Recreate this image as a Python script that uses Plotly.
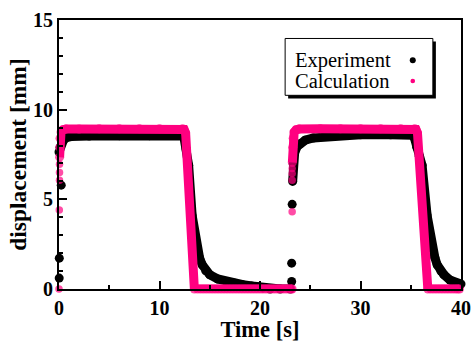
import plotly.graph_objects as go

# ---------------- data ----------------
# Experiment (black) — None separates isolated dots from continuous runs
exp_t = [0.02, None, 0.03, None, 0.22, None,
         0.0, 0.1, 0.25, 0.45, 0.75, 1.2, 3.0, 6.0, 9.0, 12.2, 12.45, 12.65, 12.9,
         13.25, 13.55, 13.75, 14.0, 14.25, 14.6, 15.0, 15.8, 16.7, 17.5, 18.3, 19.2,
         19.8, 20.3, 21.0, 22.0, 23.0, None,
         23.15, None, 23.15, None, 23.2, None,
         23.25, 23.3, 23.45, 23.7, 24.0, 24.5, 25.3, 27.0, 30.0, 33.0, 35.1, 35.35,
         35.6, 35.85, 36.13, 36.63, 36.9, 37.13, 37.4, 37.63, 38.0, 38.3, 38.9, 39.4, 40.0]
exp_y = [0.61, None, 1.72, None, 5.79, None,
         7.64, 7.9, 8.1, 8.3, 8.45, 8.5, 8.53, 8.55, 8.55, 8.55, 8.4, 7.8, 6.9,
         4.1, 2.9, 2.28, 1.7, 1.35, 1.02, 0.8, 0.56, 0.42, 0.32, 0.24, 0.17,
         0.12, 0.06, 0.0, 0.0, 0.0, None,
         0.42, None, 1.44, None, 4.72, None,
         6.0, 7.0, 7.6, 7.95, 8.1, 8.3, 8.42, 8.52, 8.6, 8.6, 8.58, 8.45,
         7.9, 7.4, 6.9, 4.1, 3.0, 2.28, 1.75, 1.35, 1.0, 0.8, 0.5, 0.36, 0.28]

# Calculation (pink)
calc_t = [0.0, None, 0.03, None, 0.05, None, 0.05, None, 0.05, None,
          0.06, 0.08, 0.1, 0.2, 0.4, 0.7, 2.0, 4.0, 6.0, 8.0, 10.0, 12.3, 12.45, 12.6,
          13.47, 13.8, 14.1, 14.4, 14.7, 15.0, 15.3, 15.6, 15.9, 16.2, 16.5, 16.8,
          17.1, 17.4, 17.7, 18.0, 18.3, 18.6, 18.9, 19.2, 19.5, 19.8, 20.1, 20.4,
          20.7, 21.0, 21.3, 21.6, 21.9, 22.2, 22.5, 22.8, 23.1, 23.2, None,
          23.2, None, 23.2, None, 23.2, None, 23.2, None,
          23.22, 23.26, 23.3, 23.4, 23.6, 23.9, 26.0, 28.0, 30.0, 32.0, 34.0, 35.4,
          35.52, 35.67, 36.7, 37.0, 37.3, 37.6, 37.9, 38.2, 38.5, 38.8, 39.1, 39.4,
          39.65, 39.85]
calc_y = [0.0, None, 4.4, None, 6.07, None, 6.5, None, 6.95, None,
          7.35, 7.9, 8.4, 8.75, 8.88, 8.92, 8.92, 8.93, 8.93, 8.93, 8.93, 8.93, 8.9, 8.7,
          0.0, 0.0, 0.0, 0.0, 0.0, 0.0, 0.0, 0.0, 0.0, 0.0, 0.0, 0.0,
          0.0, 0.0, 0.0, 0.0, 0.0, 0.0, 0.0, 0.0, 0.0, 0.0, 0.0, 0.0,
          0.0, 0.0, 0.0, 0.0, 0.0, 0.0, 0.0, 0.0, 0.0, 0.0, None,
          4.31, None, 6.07, None, 6.44, None, 6.72, None,
          7.05, 7.9, 8.4, 8.75, 8.88, 8.92, 8.93, 8.93, 8.93, 8.93, 8.93, 8.93,
          8.9, 8.7, 0.0, 0.0, 0.0, 0.0, 0.0, 0.0, 0.0, 0.0, 0.0, 0.0,
          0.0, 0.0]

x_ticks = [0, 10, 20, 30, 40]
y_ticks = [0, 5, 10, 15]
series_names = ["Experiment", "Calculation"]

BLACK = "#000000"
PINK = "#FF0080"
SERIF = "Liberation Serif, Times New Roman, serif"


def point_sizes(ys, run_size, lone_size):
    """Isolated samples (no neighbour on either side) get the smaller dot size."""
    out = []
    for i, v in enumerate(ys):
        prev_none = i == 0 or ys[i - 1] is None
        next_none = i == len(ys) - 1 or ys[i + 1] is None
        out.append(lone_size if (prev_none and next_none) else run_size)
    return out


fig = go.Figure()
fig.add_trace(go.Scatter(
    x=exp_t, y=exp_y, mode="lines+markers", name=series_names[0],
    line=dict(color=BLACK, width=9), connectgaps=False,
    marker=dict(color=BLACK, size=9, line=dict(width=0)),
    cliponaxis=False, showlegend=False, hoverinfo="skip"))
fig.add_trace(go.Scatter(
    x=calc_t, y=calc_y, mode="lines+markers", name=series_names[1],
    line=dict(color=PINK, width=9), connectgaps=False,
    marker=dict(color=PINK, size=point_sizes(calc_y, 9, 7.5), line=dict(width=0)),
    cliponaxis=False, showlegend=False, hoverinfo="skip"))

# custom legend (text left, symbol right, box with drop shadow)
fig.add_shape(type="rect", xref="x", yref="y", x0=22.8, x1=37.5, y0=10.62, y1=13.80,
              fillcolor=BLACK, line=dict(width=0), layer="above")
fig.add_shape(type="rect", xref="x", yref="y", x0=22.5, x1=37.2, y0=10.80, y1=13.97,
              fillcolor="white", line=dict(color=BLACK, width=1), layer="above")
leg_y = [12.75, 11.6]
for name, yy in zip(series_names, leg_y):
    fig.add_annotation(x=23.3, y=yy, xref="x", yref="y", text=name, showarrow=False,
                       xanchor="left", yanchor="middle",
                       font=dict(family=SERIF, size=20.5, color=BLACK))
fig.add_shape(type="circle", xref="x", yref="y", xsizemode="pixel", ysizemode="pixel",
              xanchor=35.2, yanchor=leg_y[0], x0=-3, x1=3, y0=-3, y1=3,
              fillcolor=BLACK, line=dict(width=0), layer="above")
fig.add_shape(type="circle", xref="x", yref="y", xsizemode="pixel", ysizemode="pixel",
              xanchor=35.2, yanchor=leg_y[1], x0=-2.3, x1=2.3, y0=-2.3, y1=2.3,
              fillcolor=PINK, line=dict(width=0), layer="above")

axis_common = dict(showgrid=False, zeroline=False, showline=True, linecolor=BLACK,
                   linewidth=2, mirror=True, ticks="inside", tickcolor=BLACK,
                   tickwidth=2, ticklen=8, automargin=False,
                   tickfont=dict(family=SERIF, size=20, color=BLACK, weight="bold"))

fig.update_xaxes(range=[0, 40], tickmode="array", tickvals=x_ticks,
                 minor=dict(ticks="inside", dtick=5, ticklen=4, tickwidth=1.5, tickcolor=BLACK),
                 title=dict(text="Time [s]", standoff=4,
                            font=dict(family=SERIF, size=22.5, color=BLACK, weight="bold")),
                 **axis_common)
fig.update_yaxes(range=[0, 15], tickmode="array", tickvals=y_ticks,
                 minor=dict(ticks="inside", dtick=1, ticklen=4, tickwidth=1.5, tickcolor=BLACK),
                 title=dict(text="displacement [mm]", standoff=0,
                            font=dict(family=SERIF, size=23.5, color=BLACK, weight="bold")),
                 **axis_common)

fig.update_layout(width=471, height=342, margin=dict(l=59, r=10, t=20, b=53),
                  paper_bgcolor="white", plot_bgcolor="white", showlegend=False)

fig.write_html("out.html")
